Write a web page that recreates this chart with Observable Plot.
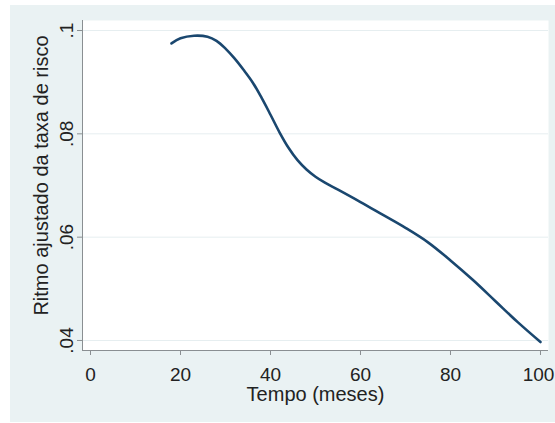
<!DOCTYPE html>
<html><head><meta charset="utf-8">
<script src="https://cdn.jsdelivr.net/npm/d3@7"></script>
<script src="https://cdn.jsdelivr.net/npm/@observablehq/plot@0.6"></script>
<style>
html,body{margin:0;padding:0;background:#fff;}
#wrap{position:relative;width:555px;height:423px;overflow:hidden;}
#bg{position:absolute;left:10px;top:5px;width:545px;height:417px;background:#eaf2f3;}
#chart{position:absolute;left:0;top:0;}
</style></head><body>
<div id="wrap"><div id="bg"></div><div id="chart"></div></div>
<script>
const tempo = [18, 20, 23, 26, 28, 30, 32, 34, 36, 38, 40, 42, 44, 46, 48, 50, 52, 55, 60, 65, 70, 75, 80, 85, 90, 95, 100];
const ritmo = [0.0975, 0.0985, 0.099, 0.0988, 0.098, 0.0965, 0.0946, 0.0924, 0.0900, 0.0870, 0.0837, 0.0803, 0.0773, 0.0749, 0.0731, 0.0717, 0.0706, 0.0692, 0.0668, 0.0643, 0.0618, 0.0590, 0.0555, 0.0517, 0.0476, 0.0435, 0.0397];
const xTicks = [0, 20, 40, 60, 80, 100];
const yTicks = [0.04, 0.06, 0.08, 0.1];
const yTickLabels = [".04", ".06", ".08", ".1"];
const xTitle = "Tempo (meses)";
const yTitle = "Ritmo ajustado da taxa de risco";

const data = tempo.map((t, i) => ({t, r: ritmo[i]}));
const yLab = yTicks.map((v, i) => ({v, s: yTickLabels[i]}));
const lastTick = xTicks[xTicks.length - 1];
const xDom = [-1.78, 101.78];
const yDom = [0.03806, 0.10194];
const axisCol = "#8a8f92";
const textCol = "#222";

const chart = Plot.plot({
  width: 555,
  height: 423,
  marginLeft: 82,
  marginRight: 7,
  marginTop: 20,
  marginBottom: 73,
  style: {background: "transparent", fontFamily: "'Liberation Sans', Arial, sans-serif", fontSize: "20px", color: textCol},
  x: {domain: xDom, axis: null},
  y: {domain: yDom, axis: null},
  marks: [
    Plot.frame({fill: "white", stroke: null}),
    Plot.gridY(yTicks, {stroke: "#e6eef0", strokeOpacity: 1, strokeWidth: 1}),
    Plot.axisX({ticks: xTicks, tickSize: 5, tickFormat: () => "", stroke: axisCol, label: null}),
    Plot.axisY({ticks: yTicks, tickSize: 5, tickFormat: () => "", stroke: axisCol, label: null}),
    Plot.ruleY([yDom[0]], {stroke: axisCol, strokeWidth: 1}),
    Plot.ruleX([xDom[0]], {stroke: axisCol, strokeWidth: 1}),
    Plot.line(data, {x: "t", y: "r", stroke: "#1a476f", strokeWidth: 2.6, curve: "catmull-rom"}),
    Plot.text(xTicks.filter(d => d !== lastTick), {x: d => d, frameAnchor: "bottom", dy: 30, lineAnchor: "bottom", text: d => String(d), fill: textCol, fontSize: 19}),
    Plot.text([lastTick], {x: d => d, frameAnchor: "bottom", dy: 30, dx: -2, lineAnchor: "bottom", text: d => String(d), fill: textCol, fontSize: 19}),
    Plot.text(yLab, {y: "v", text: "s", frameAnchor: "left", dx: -10, rotate: -90, lineAnchor: "bottom", textAnchor: "middle", fill: textCol, fontSize: 19}),
    Plot.text([xTitle], {frameAnchor: "bottom", dy: 50, lineAnchor: "bottom", fill: textCol, fontSize: 20}),
    Plot.text([yTitle], {frameAnchor: "left", dx: -35, dy: -10, rotate: -90, lineAnchor: "bottom", textAnchor: "middle", fill: textCol, fontSize: 20})
  ]
});
document.getElementById("chart").appendChild(chart);
</script>
</body></html>
